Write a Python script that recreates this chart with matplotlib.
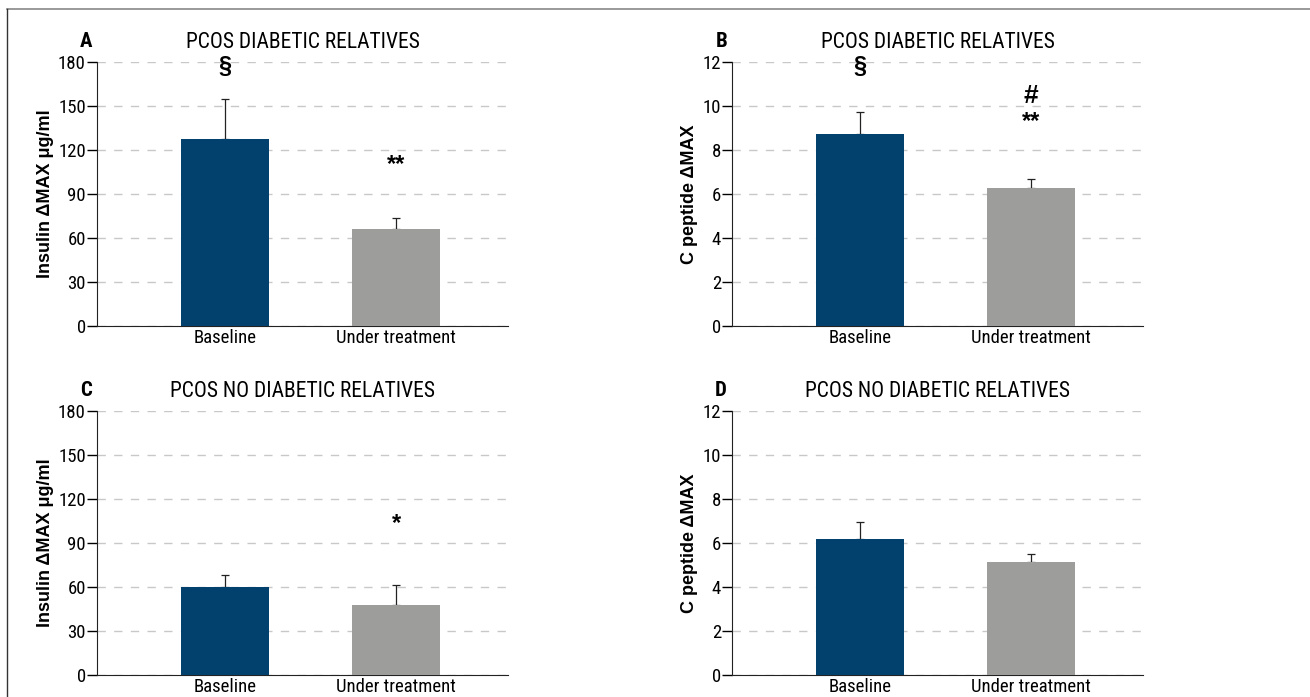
import matplotlib.pyplot as plt
from matplotlib import font_manager
from matplotlib.lines import Line2D

# data
groups = ['Baseline', 'Under treatment']

insulin_dr = [127.5, 66.0]
insulin_dr_err = [27.0, 7.5]
cpep_dr = [8.75, 6.28]
cpep_dr_err = [0.97, 0.42]

insulin_ndr = [59.8, 48.0]
insulin_ndr_err = [8.5, 13.2]
cpep_ndr = [6.17, 5.12]
cpep_ndr_err = [0.78, 0.37]

insulin_ticks = [0, 30, 60, 90, 120, 150, 180]
cpep_ticks = [0, 2, 4, 6, 8, 10, 12]

# significance marks: (bar index, y, text)
marks_a = [(0, 177, '§'), (1, 110, '**')]
marks_b = [(0, 11.8, '§'), (1, 10.45, '#'), (1, 9.3, '**')]
marks_c = [(1, 103, '*')]
marks_d = []

bar_colors = ['#02406e', '#9d9d9c']

# pick a condensed sans face if one is installed
names = set(f.name for f in font_manager.fontManager.ttflist)
wanted = ['Roboto Condensed', 'Archivo Narrow', 'PT Sans Narrow', 'Pragati Narrow',
          'Barlow Condensed', 'Sofia Sans Condensed']
cond = [n for n in wanted if n in names]
if not cond:
    cond = sorted(n for n in names if 'Narrow' in n or 'Condensed' in n)
narrow = cond[:1] + ['DejaVu Sans']
boldfam = ['Liberation Sans', 'DejaVu Sans']

fig = plt.figure(figsize=(13.1, 6.97), dpi=100)

# frame lines at top and left
fig.add_artist(Line2D([7/1310, 1], [1 - 9/697, 1 - 9/697], color='#888888', lw=1.2))
fig.add_artist(Line2D([7/1310, 7/1310], [0, 1 - 9/697], color='#333333', lw=1.0))

w = 411/1310
h = 264/697
boxes = [
    [97/1310, 1 - 326/697, w, h],
    [732/1310, 1 - 326/697, w, h],
    [97/1310, 1 - 675/697, w, h],
    [732/1310, 1 - 675/697, w, h],
]

panels = [
    ('A', 'PCOS DIABETIC RELATIVES', insulin_dr, insulin_dr_err, insulin_ticks, 'Insulin ΔMAX μg/ml', marks_a),
    ('B', 'PCOS DIABETIC RELATIVES', cpep_dr, cpep_dr_err, cpep_ticks, 'C peptide ΔMAX', marks_b),
    ('C', 'PCOS NO DIABETIC RELATIVES', insulin_ndr, insulin_ndr_err, insulin_ticks, 'Insulin ΔMAX μg/ml', marks_c),
    ('D', 'PCOS NO DIABETIC RELATIVES', cpep_ndr, cpep_ndr_err, cpep_ticks, 'C peptide ΔMAX', marks_d),
]

for box, (letter, title, vals, errs, ticks, ylab, marks) in zip(boxes, panels):
    ax = fig.add_axes(box)
    x = list(range(len(groups)))
    ax.bar(x, vals, width=0.515, color=bar_colors, zorder=3)
    ax.errorbar(x, vals, yerr=[[0] * len(errs), errs], fmt='none', ecolor='#222222',
                elinewidth=0.9, capsize=3, capthick=0.9, zorder=2)
    ax.set_xlim(-0.75, 1.655)
    ax.set_ylim(ticks[0], ticks[-1])
    ax.set_yticks(ticks)
    ax.set_yticklabels([str(t) for t in ticks], family=narrow, fontsize=13.5)
    ax.set_xticks(x)
    ax.set_xticklabels(groups, family=narrow, fontsize=13.5)
    ax.tick_params(axis='x', length=0, pad=2)
    ax.tick_params(axis='y', length=7, width=1, pad=1)
    for s in ['top', 'right']:
        ax.spines[s].set_visible(False)
    ax.spines['left'].set_color('#222222')
    ax.spines['bottom'].set_color('#222222')
    ax.yaxis.grid(True, linestyle=(0, (6, 6)), color='#c8c8c8', lw=1)
    ax.set_axisbelow(True)
    ax.set_ylabel(ylab, family=boldfam, fontsize=13, fontweight='bold', labelpad=3)
    ax.set_title(title, family=narrow, fontsize=15.5, pad=10, x=0.5)
    ax.text(-0.012, 1.04, letter, transform=ax.transAxes, family=narrow,
            fontsize=15, fontweight='bold', ha='right', va='bottom')
    for i, yv, t in marks:
        size = 19 if t == '#' else 17
        ax.text(i, yv, t, ha='center', va='center', family=boldfam,
                fontsize=size, fontweight='bold', zorder=5)

plt.savefig('out.png', dpi=100)
